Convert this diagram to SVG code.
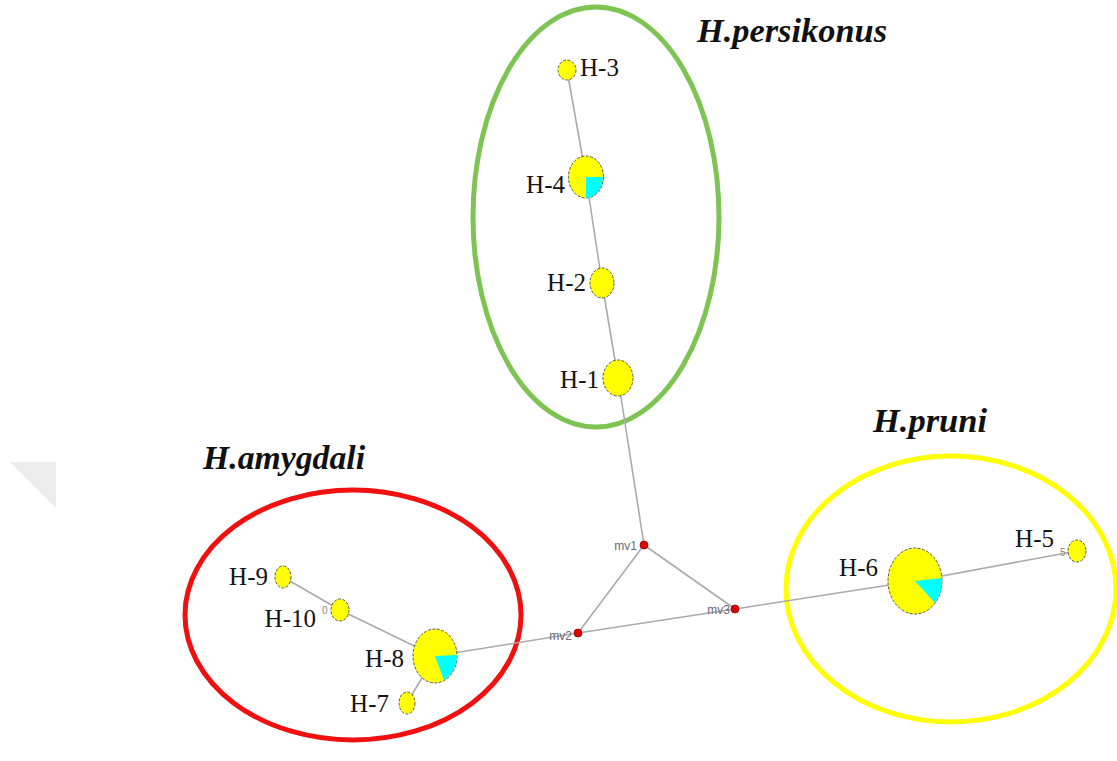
<svg xmlns="http://www.w3.org/2000/svg" width="1117" height="761" viewBox="0 0 1117 761">
<style>
.grp{fill:none;stroke-width:5}
.title{font-family:"Liberation Serif",serif;font-weight:bold;font-style:italic;font-size:33px;fill:#111}
.lbl{font-family:"Liberation Serif",serif;font-size:25px;fill:#151515}
.mvl{font-family:"Liberation Sans",sans-serif;font-size:12px;fill:#6a6a7a}
.tiny{font-family:"Liberation Sans",sans-serif;font-size:10px;fill:#888}
.hap{fill:#ffff00;stroke:#555;stroke-width:1;stroke-dasharray:3 1.5}
.cyan{fill:#00ffff;stroke:none}
.mv{fill:#e00000;stroke:#900;stroke-width:0.8}
.edge{stroke:#aaa;stroke-width:1.6;fill:none}
</style>
<rect width="1117" height="761" fill="#fff"/>
<polygon points="10,462 56,462 56,508" fill="#ececec"/>
<g id="groups">
<ellipse class="grp" cx="596" cy="217" rx="123" ry="210" stroke="#7dc452"/>
<ellipse class="grp" cx="353" cy="615" rx="168" ry="125" stroke="#f01010"/>
<ellipse class="grp" cx="951" cy="589" rx="165" ry="133" stroke="#ffff00"/>
</g>
<g id="titles">
<text class="title" x="697" y="42" textLength="190" lengthAdjust="spacingAndGlyphs">H.persikonus</text>
<text class="title" x="873" y="432" textLength="114" lengthAdjust="spacingAndGlyphs">H.pruni</text>
<text class="title" x="203" y="469" textLength="162" lengthAdjust="spacingAndGlyphs">H.amygdali</text>
</g>
<g id="connectors">
<line class="edge" x1="567" y1="70" x2="586" y2="177"/>
<line class="edge" x1="586" y1="177" x2="602" y2="283"/>
<line class="edge" x1="602" y1="283" x2="618" y2="378"/>
<line class="edge" x1="618" y1="378" x2="644" y2="545"/>
<line class="edge" x1="644" y1="545" x2="578" y2="633"/>
<line class="edge" x1="644" y1="545" x2="735" y2="609"/>
<line class="edge" x1="578" y1="633" x2="735" y2="609"/>
<line class="edge" x1="735" y1="609" x2="915" y2="581"/>
<line class="edge" x1="915" y1="581" x2="1077" y2="551"/>
<line class="edge" x1="578" y1="633" x2="435" y2="656"/>
<line class="edge" x1="283" y1="577" x2="340" y2="610"/>
<line class="edge" x1="340" y1="610" x2="435" y2="656"/>
<line class="edge" x1="435" y1="656" x2="407" y2="703"/>
</g>
<g id="H-3"><ellipse class="hap" cx="567" cy="70" rx="9" ry="10"/><text class="lbl" x="580" y="76">H-3</text></g>
<g id="H-4"><ellipse class="hap" cx="586" cy="177" rx="17.5" ry="21"/><path class="cyan" d="M586,177 L603,177 A17.5,21 0 0,1 586,198 Z"/><text class="lbl" x="565" y="193" text-anchor="end">H-4</text></g>
<g id="H-2"><ellipse class="hap" cx="602" cy="283" rx="12" ry="15"/><text class="lbl" x="586" y="291" text-anchor="end">H-2</text></g>
<g id="H-1"><ellipse class="hap" cx="618" cy="378" rx="15" ry="18"/><text class="lbl" x="599" y="388" text-anchor="end">H-1</text></g>
<g id="mv1"><circle class="mv" cx="644" cy="545" r="4"/><text class="mvl" x="637" y="550" text-anchor="end">mv1</text></g>
<g id="mv2"><circle class="mv" cx="578" cy="633" r="4"/><text class="mvl" x="572" y="640" text-anchor="end">mv2</text></g>
<g id="mv3"><circle class="mv" cx="735" cy="609" r="4"/><text class="mvl" x="730" y="614" text-anchor="end">mv3</text></g>
<g id="H-9"><ellipse class="hap" cx="283" cy="577" rx="8" ry="11"/><text class="lbl" x="268" y="585" text-anchor="end">H-9</text></g>
<g id="H-10"><ellipse class="hap" cx="340" cy="610" rx="9" ry="11"/><text class="lbl" x="316" y="627" text-anchor="end">H-10</text><text class="tiny" x="322" y="614">0</text></g>
<g id="H-8"><ellipse class="hap" cx="435" cy="656" rx="22" ry="27"/><path class="cyan" d="M435,656 L457,655 A22,27 0 0,1 444,680 Z"/><text class="lbl" x="404" y="667" text-anchor="end">H-8</text></g>
<g id="H-7"><ellipse class="hap" cx="407" cy="703" rx="8" ry="11"/><text class="lbl" x="389" y="712" text-anchor="end">H-7</text></g>
<g id="H-6"><ellipse class="hap" cx="915" cy="581" rx="27" ry="33"/><path class="cyan" d="M915,581 L942,578 A27,33 0 0,1 935,603 Z"/><text class="lbl" x="878" y="576" text-anchor="end">H-6</text></g>
<g id="H-5"><ellipse class="hap" cx="1077" cy="551" rx="9" ry="11"/><text class="lbl" x="1054" y="547" text-anchor="end">H-5</text><text class="tiny" x="1060" y="556">5</text></g>
</svg>
